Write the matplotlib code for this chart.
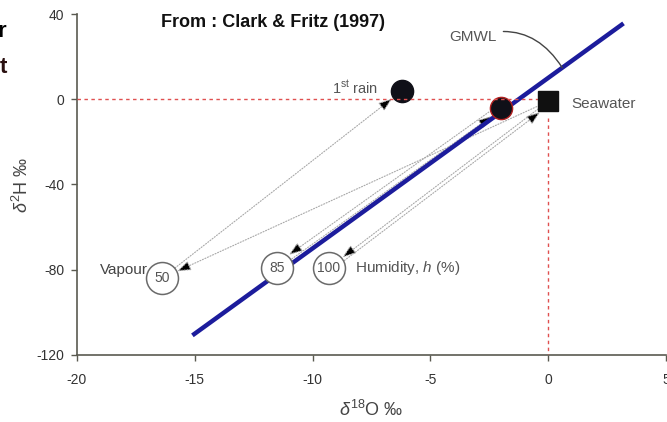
import numpy as np
import matplotlib
matplotlib.use('Agg')
import matplotlib.pyplot as plt
from matplotlib.transforms import offset_copy

plt.rcParams['font.family'] = ['Liberation Sans', 'DejaVu Sans']
plt.rcParams['mathtext.fontset'] = 'custom'
plt.rcParams['mathtext.rm'] = 'Liberation Sans'
plt.rcParams['mathtext.it'] = 'Liberation Sans:italic'
plt.rcParams['axes.unicode_minus'] = False

# Data (delta18O, delta2H in permil)
gmwl_x = [-15.1, 3.2]
gmwl_slope = 8
gmwl_intercept = 10

seawater = (0.0, -1.0)
rain1 = (-6.2, 4.0)
rain2 = (-2.0, -4.0)

humidity = ['50', '85', '100']
vapour_x = [-16.4, -11.5, -9.3]
vapour_y = [-84.0, -79.0, -79.0]

x_ticks = [-20, -15, -10, -5, 0, 5]
y_ticks = [-120, -80, -40, 0, 40]

fig = plt.figure(figsize=(6.67, 4.22), dpi=100)
ax = fig.add_axes([0.1154, 0.1588, 0.883, 0.808])
ax.set_xlim(-20, 5)
ax.set_ylim(-120, 40)

# GMWL
gx = np.array(gmwl_x)
ax.plot(gx, gmwl_slope * gx + gmwl_intercept, color='#1c1c9c', lw=3.2,
        solid_capstyle='butt', zorder=3)

# red reference lines through seawater
ax.plot([-20, seawater[0]], [0, 0], color='#e05050', lw=1,
        linestyle=(0, (2.5, 2.5)), zorder=5)
ax.plot([seawater[0], seawater[0]], [seawater[1] - 8, -120], color='#e05050', lw=1,
        linestyle=(0, (2.5, 2.5)), zorder=5)

# points
ax.plot(*rain1, 'o', ms=16, color='#101018', zorder=4)
ax.plot(*rain2, 'o', ms=16, color='#101018', mec='#b02020', mew=1, zorder=4)
ax.plot(*seawater, 's', ms=14.5, color='#101010', zorder=6)

vap = {}
for h, x, y in zip(humidity, vapour_x, vapour_y):
    ax.plot(x, y, 'o', ms=23, mfc='white', mec='#6a6a6a', mew=1.1, zorder=4)
    ax.text(x, y, h, ha='center', va='center', fontsize=10, color='#555555', zorder=6)
    vap[h] = (x, y)

pts = {'sea': seawater, 'rain1': rain1, 'rain2': rain2,
       'v50': vap['50'], 'v85': vap['85'], 'v100': vap['100']}
shrink = {'sea': 9, 'rain1': 9, 'rain2': 9, 'v50': 12, 'v85': 12, 'v100': 12}

# arrows: (from, to, offset in dots)
arrows = [('sea', 'v50', (0, 0)), ('v50', 'rain1', (0, 0)),
          ('rain2', 'v85', (-2, 3)), ('v85', 'rain2', (1, -1)),
          ('sea', 'v100', (0, 0)), ('v100', 'sea', (2, -3))]
for a, b, off in arrows:
    tr = offset_copy(ax.transData, fig=fig, x=off[0], y=off[1], units='dots')
    ax.annotate('', xy=pts[b], xytext=pts[a], xycoords=tr, textcoords=tr,
                arrowprops=dict(arrowstyle='-|>,head_length=0.7,head_width=0.25',
                                mutation_scale=12, ls=(0, (1, 1.5)), lw=0.8,
                                ec='#a8a8a8', fc='black',
                                shrinkA=shrink[a], shrinkB=shrink[b]),
                zorder=2)

# labels
ax.text(rain1[0] - 1.0, rain1[1] + 1.5, r'1$^{\rm st}$ rain', ha='right', va='center',
        fontsize=10.5, color='#555555')
ax.text(seawater[0] + 1.0, seawater[1] - 1, 'Seawater', ha='left', va='center',
        fontsize=11, color='#555555')
ax.text(vapour_x[0] - 0.6, vapour_y[0] + 4, 'Vapour', ha='right', va='center',
        fontsize=11, color='#444444')
ax.text(vapour_x[2] + 1.1, vapour_y[2], r'Humidity, $h$ (%)', ha='left', va='center',
        fontsize=11, color='#555555')
ax.annotate('GMWL', xy=(0.6, 0.6 * gmwl_slope + gmwl_intercept), xytext=(-3.2, 29),
            ha='center', va='center', fontsize=11, color='#555555',
            arrowprops=dict(arrowstyle='-', color='#444444', lw=1,
                            connectionstyle='arc3,rad=-0.4', shrinkA=3, shrinkB=0))
ax.text(-11.7, 36.2, 'From : Clark & Fritz (1997)', ha='center', va='center',
        fontsize=13, fontweight='bold', color='#111111')

# cropped title letters at left edge
fig.text(0.009, 0.925, 'r', ha='right', va='center', fontsize=16, fontweight='bold')
fig.text(0.011, 0.84, 't', ha='right', va='center', fontsize=16, fontweight='bold',
         color='#2a1010')

# axes styling
for s in ['top', 'right']:
    ax.spines[s].set_visible(False)
for s in ['left', 'bottom']:
    ax.spines[s].set_color('#5a5a50')
    ax.spines[s].set_linewidth(1.2)
ax.set_xticks(x_ticks)
ax.set_yticks(y_ticks)
ax.tick_params(colors='#5a5a50', labelcolor='#333333', labelsize=10, length=4, width=1)
ax.tick_params(axis='x', pad=9)
ax.tick_params(axis='y', pad=5)
ax.set_xlabel(r'$\delta^{18}$O ‰', fontsize=13, color='#444444', labelpad=9)
ax.set_ylabel(r'$\delta^{2}$H ‰', fontsize=13, color='#444444', labelpad=3)

fig.savefig('out.png', dpi=100)
